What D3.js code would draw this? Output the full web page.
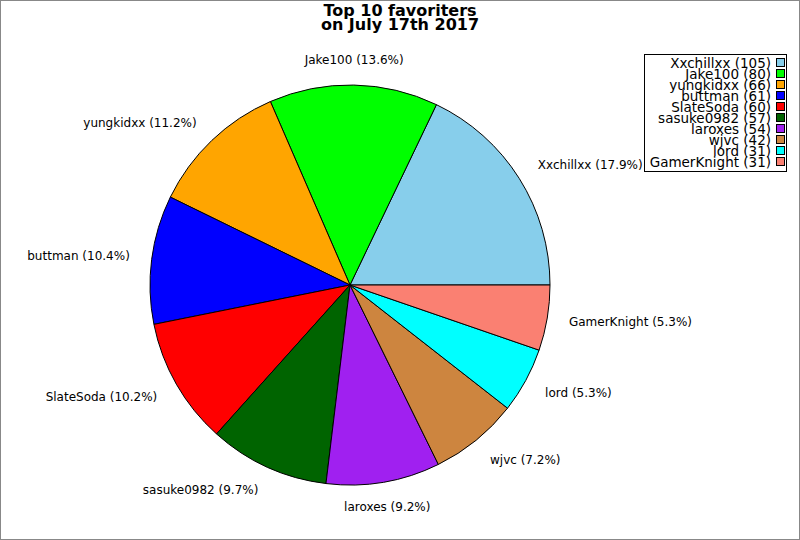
<!DOCTYPE html>
<html>
<head>
<meta charset="utf-8">
<script src="https://cdn.jsdelivr.net/npm/d3@7"></script>
<style>
  body { margin: 0; background: #fff; }
  svg { display: block; font-family: "DejaVu Sans", sans-serif; }
</style>
</head>
<body>
<div id="b1"></div>
<script>
// データ
const names = ["Xxchillxx", "Jake100", "yungkidxx", "buttman", "SlateSoda",
               "sasuke0982", "laroxes", "wjvc", "lord", "GamerKnight"];
const counts = [105, 80, 66, 61, 60, 57, 54, 42, 31, 31];
const colors = ["#87CEEB", "#00FF00", "#FFA500", "#0000FF", "#FF0000",
                "#006400", "#A020F0", "#CD853F", "#00FFFF", "#FA8072"];
const titleLines = ["Top 10 favoriters", "on July 17th 2017"];

const width = 800;
const height = 540;
const cx = 350, cy = 285;
const radius = 200;
const labelRx = 222;   // ラベル位置（横）
const labelRy = 225;   // ラベル位置（縦）

const data = names.map((name, i) => ({name, count: counts[i], color: colors[i]}));
const total = d3.sum(counts);

const chart = () => {
    const svg = d3.create("svg")
        .attr("width", width)
        .attr("height", height)
        .attr("viewBox", [0, 0, width, height])
    ;

    // 枠
    svg.append("rect")
        .attr("x", 0.5).attr("y", 0.5)
        .attr("width", width - 1).attr("height", height - 1)
        .attr("fill", "#fff")
        .attr("stroke", "#888")
    ;

    // タイトル（2行）
    svg.append("g")
        .selectAll("text")
        .data(titleLines)
        .join("text")
            .attr("x", 400)
            .attr("y", (d, i) => 16 + i * 14)
            .attr("text-anchor", "middle")
            .attr("font-size", 16)
            .attr("font-weight", "bold")
            .text(d => d)
    ;

    // 3時の位置から反時計回り
    const pie = d3.pie()
        .value(d => d.count)
        .sort(null)
        .startAngle(Math.PI / 2)
        .endAngle(Math.PI / 2 - 2 * Math.PI)
    ;
    const arcs = pie(data);
    const arc = d3.arc().innerRadius(0).outerRadius(radius);
    const mid = d => (d.startAngle + d.endAngle) / 2;

    const g = svg.append("g")
        .attr("transform", `translate(${cx},${cy})`);

    g.selectAll("path")
        .data(arcs)
        .join("path")
            .attr("d", arc)
            .attr("fill", d => d.data.color)
            .attr("stroke", "#000")
            .attr("stroke-width", 1)
            .attr("stroke-linejoin", "round")
    ;

    // ラベル（右側は左揃え、左側は右揃え、真上・真下は中央）
    g.selectAll("text")
        .data(arcs)
        .join("text")
            .attr("x", d => Math.sin(mid(d)) * labelRx)
            .attr("y", d => -Math.cos(mid(d)) * labelRy)
            .attr("dy", "0.35em")
            .attr("text-anchor", d => Math.sin(mid(d)) >= 0.2 ? "start"
                : (Math.sin(mid(d)) <= -0.2 ? "end" : "middle"))
            .attr("font-size", 12)
            .attr("fill", "#000")
            .text(d => `${d.data.name} (${(d.data.count / total * 100).toFixed(1)}%)`)
    ;

    // 凡例
    const legend = svg.append("g");
    legend.append("rect")
        .attr("x", 644.5).attr("y", 54.5)
        .attr("width", 142).attr("height", 117)
        .attr("fill", "#fff")
        .attr("stroke", "#000")
    ;
    const rows = legend.selectAll("g.row")
        .data(data)
        .join("g")
            .attr("class", "row")
            .attr("transform", (d, i) => `translate(0,${63 + i * 11})`)
    ;
    rows.append("text")
        .attr("x", 771)
        .attr("dy", "0.35em")
        .attr("text-anchor", "end")
        .attr("font-size", 13.5)
        .text(d => `${d.name} (${d.count})`)
    ;
    rows.append("rect")
        .attr("x", 776.5).attr("y", -4.5)
        .attr("width", 8).attr("height", 8)
        .attr("fill", d => d.color)
        .attr("stroke", "#000")
    ;

    return svg.node();
};

document.getElementById("b1").append(chart());
</script>
</body>
</html>
